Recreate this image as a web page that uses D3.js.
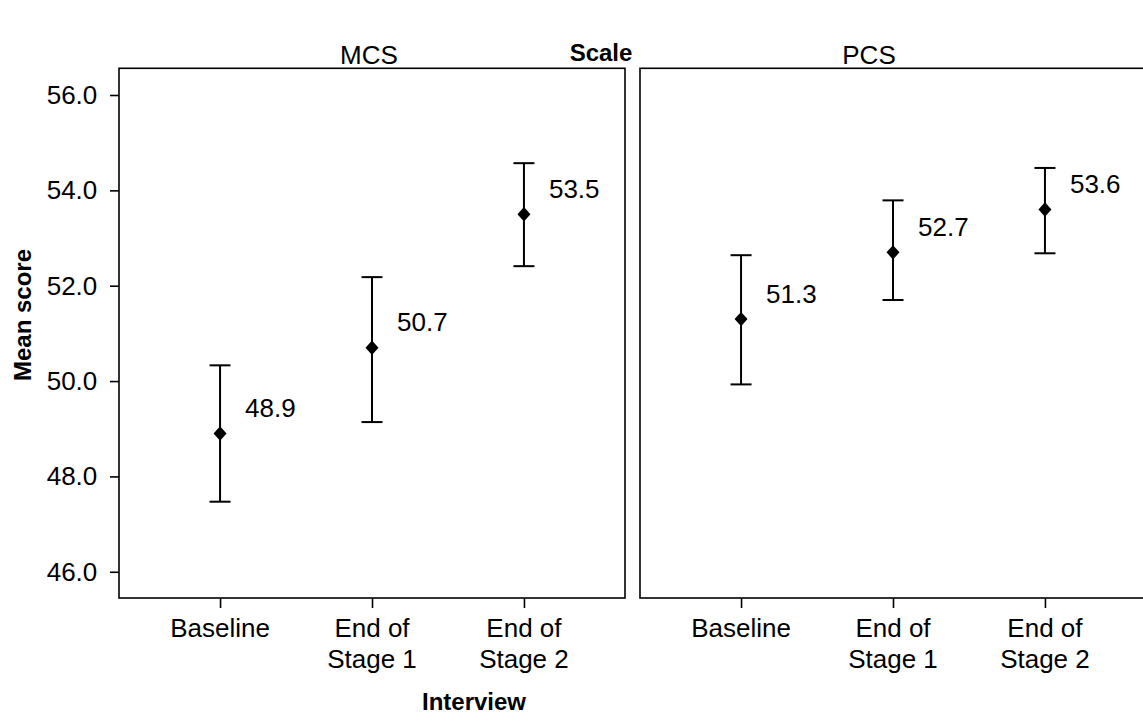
<!DOCTYPE html>
<html>
<head>
<meta charset="utf-8">
<script src="https://cdn.jsdelivr.net/npm/d3@7"></script>
<style>
  html, body { margin: 0; padding: 0; background: #fff; }
  svg { display: block; font-family: "Liberation Sans", Arial, sans-serif; }
</style>
</head>
<body>
<svg id="chart" width="1143" height="726"></svg>
<script>
// Interview time points (x categories), each drawn as two lines
const interviews = ["Baseline", "End of Stage 1", "End of Stage 2"];
const interviewLines = [["Baseline"], ["End of", "Stage 1"], ["End of", "Stage 2"]];

// Scales shown as facets
const scales = ["MCS", "PCS"];

// Mean scores and 95% interval bounds per scale
const mcsMean  = [48.9, 50.7, 53.5];
const mcsLower = [47.47, 49.14, 52.41];
const mcsUpper = [50.33, 52.18, 54.57];

const pcsMean  = [51.3, 52.7, 53.6];
const pcsLower = [49.93, 51.70, 52.68];
const pcsUpper = [52.64, 53.79, 54.47];

// Y axis ticks
const yTicks = [46, 48, 50, 52, 54, 56];

const seriesByScale = {
  MCS: { mean: mcsMean, lower: mcsLower, upper: mcsUpper },
  PCS: { mean: pcsMean, lower: pcsLower, upper: pcsUpper }
};

const svg = d3.select("#chart");

// Layout
const panelTop = 68.3, panelBottom = 598;
const panelWidth = 506;
const panelLefts = [119, 640];

const y = d3.scaleLinear().domain([45.45, 56.56]).range([panelBottom, panelTop]);
const x = d3.scalePoint().domain(interviews).range([0, panelWidth]).padding(0.665);

const fmt = d3.format(".1f");
const fontSize = 26;

// Diamond marker
function diamond(cx, cy, hw, hh) {
  const p = d3.path();
  p.moveTo(cx, cy - hh);
  p.lineTo(cx + hw, cy);
  p.lineTo(cx, cy + hh);
  p.lineTo(cx - hw, cy);
  p.closePath();
  return p.toString();
}

scales.forEach((name, i) => {
  const left = panelLefts[i];
  const g = svg.append("g").attr("transform", `translate(${left},0)`);
  const data = seriesByScale[name];

  // Panel frame
  g.append("rect")
    .attr("x", 0).attr("y", panelTop)
    .attr("width", panelWidth).attr("height", panelBottom - panelTop)
    .attr("fill", "none").attr("stroke", "#000").attr("stroke-width", 1.6);

  // X axis ticks and two-line labels
  const xAxis = g.append("g").attr("transform", `translate(0,${panelBottom})`)
    .call(d3.axisBottom(x).tickSize(10).tickFormat(""));
  xAxis.select(".domain").remove();
  xAxis.selectAll(".tick line").attr("stroke", "#000").attr("stroke-width", 1.6);

  interviews.forEach((c, k) => {
    const t = g.append("text")
      .attr("x", x(c)).attr("y", 637)
      .attr("text-anchor", "middle")
      .attr("font-size", fontSize).attr("fill", "#000");
    interviewLines[k].forEach((line, j) => {
      t.append("tspan").attr("x", x(c)).attr("dy", j === 0 ? 0 : 31).text(line);
    });
  });

  // Facet label
  g.append("text")
    .attr("x", i === 0 ? panelWidth / 2 - 3 : 229)
    .attr("y", 64)
    .attr("text-anchor", "middle")
    .attr("font-size", fontSize)
    .text(name);

  // Error bars
  const pts = g.append("g");
  interviews.forEach((c, k) => {
    const cx = x(c);
    pts.append("line")
      .attr("x1", cx).attr("x2", cx)
      .attr("y1", y(data.lower[k])).attr("y2", y(data.upper[k]))
      .attr("stroke", "#000").attr("stroke-width", 2);
    [data.lower[k], data.upper[k]].forEach(v => {
      pts.append("line")
        .attr("x1", cx - 10.5).attr("x2", cx + 10.5)
        .attr("y1", y(v)).attr("y2", y(v))
        .attr("stroke", "#000").attr("stroke-width", 2);
    });
    pts.append("path")
      .attr("d", diamond(cx, y(data.mean[k]), 6.5, 7.2))
      .attr("fill", "#000");
    pts.append("text")
      .attr("x", cx + 25)
      .attr("y", y(data.mean[k]) - 16.5)
      .attr("font-size", fontSize)
      .text(fmt(data.mean[k]));
  });
});

// Y axis on the left panel
const yAxis = svg.append("g").attr("transform", `translate(${panelLefts[0]},0)`)
  .call(d3.axisLeft(y).tickValues(yTicks).tickSize(9).tickPadding(12.7).tickFormat(d3.format(".1f")));
yAxis.select(".domain").remove();
yAxis.selectAll(".tick line").attr("stroke", "#000").attr("stroke-width", 1.6);
yAxis.selectAll(".tick text")
  .attr("font-size", fontSize)
  .attr("font-family", "'Liberation Sans', Arial, sans-serif")
  .attr("fill", "#000");

// Titles
svg.append("text")
  .attr("x", 601).attr("y", 61)
  .attr("text-anchor", "middle")
  .attr("font-size", 24).attr("font-weight", "bold")
  .text("Scale");

svg.append("text")
  .attr("x", 474).attr("y", 710)
  .attr("text-anchor", "middle")
  .attr("font-size", 24).attr("font-weight", "bold")
  .text("Interview");

svg.append("text")
  .attr("transform", "translate(31,315) rotate(-90)")
  .attr("text-anchor", "middle")
  .attr("font-size", 24).attr("font-weight", "bold")
  .text("Mean score");
</script>
</body>
</html>
